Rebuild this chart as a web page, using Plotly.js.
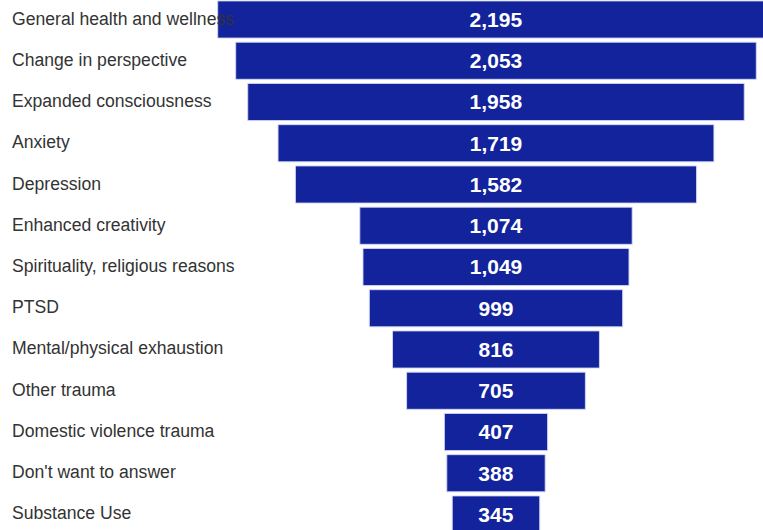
<!DOCTYPE html>
<html>
<head>
<meta charset="utf-8">
<script src="https://cdn.plot.ly/plotly-3.0.1.min.js"></script>
<style>html,body{margin:0;padding:0;background:#fff;}#chart{width:763px;height:530px;}</style>
</head>
<body>
<div id="chart"></div>
<script>
const categories = [
  "General health and wellness",
  "Change in perspective",
  "Expanded consciousness",
  "Anxiety",
  "Depression",
  "Enhanced creativity",
  "Spirituality, religious reasons",
  "PTSD",
  "Mental/physical exhaustion",
  "Other trauma",
  "Domestic violence trauma",
  "Don't want to answer",
  "Substance Use"
];
const counts = [2195, 2053, 1958, 1719, 1582, 1074, 1049, 999, 816, 705, 407, 388, 345];

const trace = {
  type: 'funnel',
  y: categories,
  x: counts,
  orientation: 'h',
  marker: { color: '#12239C', line: { color: 'rgba(210,215,245,0.9)', width: 1 } },
  connector: { visible: false },
  textposition: 'inside',
  texttemplate: '<b>%{x:,}</b>',
  insidetextfont: { family: 'Arial, "Liberation Sans", sans-serif', size: 21, color: '#ffffff' },
  constraintext: 'none',
  hoverinfo: 'none'
};

const annotations = categories.map(c => ({
  xref: 'paper', yref: 'y', x: 10 / 763, y: c, xanchor: 'left', yanchor: 'middle',
  yshift: 1,
  text: c, showarrow: false,
  font: { family: 'Arial, "Liberation Sans", sans-serif', size: 17.6, color: '#333333' }
}));

const layout = {
  width: 763, height: 530,
  margin: { l: 0, r: 0, t: 0, b: 0, pad: 0 },
  paper_bgcolor: '#ffffff', plot_bgcolor: '#ffffff',
  showlegend: false,
  funnelgap: 0.1,
  xaxis: { visible: false, range: [-1956, 1053], fixedrange: true },
  yaxis: { showticklabels: false, showgrid: false, zeroline: false, showline: false, ticks: '',
           type: 'category', range: [12.376, -0.4727] },
  annotations: annotations
};

Plotly.newPlot('chart', [trace], layout, { displayModeBar: false, staticPlot: true });
</script>
</body>
</html>
